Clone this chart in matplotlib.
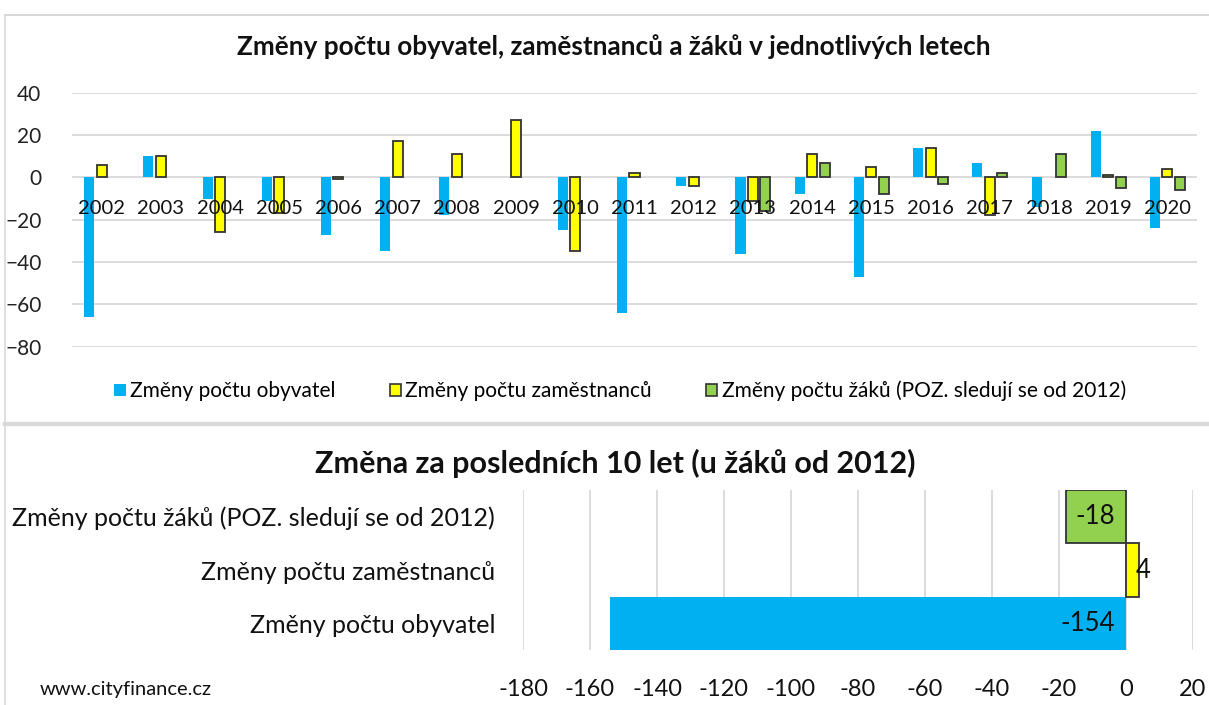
import numpy as np
import matplotlib.pyplot as plt
from matplotlib.lines import Line2D
from matplotlib.patches import Patch

years = [str(y) for y in range(2002, 2021)]
obyvatel = [-66, 10, -10, -11, -27, -35, -18, 0, -25, -64, -4, -36, -8, -47, 14, 7, -14, 22, -24]
zamestnanci = [6, 10, -26, -17, -1, 17, 11, 27, -35, 2, -4, -11, 11, 5, 14, -18, 0, 1, 4]
zaci = [np.nan] * 10 + [0, -16, 7, -8, -3, 2, 11, -5, -6]

series_names = ["Změny počtu obyvatel", "Změny počtu zaměstnanců",
                "Změny počtu žáků (POZ. sledují se od 2012)"]

sum_labels = ["Změny počtu obyvatel", "Změny počtu zaměstnanců",
              "Změny počtu žáků (POZ. sledují se od 2012)"]
sum_values = [-154, 4, -18]

BLUE, YELLOW, GREEN = "#00B0F0", "#FFFF00", "#92D050"
EDGE = "#333333"
GRID = "#D9D9D9"
NARROW = ["Liberation Sans Narrow", "DejaVu Sans Condensed", "Lato"]
NORMAL = ["Lato", "DejaVu Sans"]

W, H = 1209, 705
fig = plt.figure(figsize=(W / 100, H / 100), dpi=100)


def frac(x0, y0, x1, y1):
    # pixel box (top-left origin) -> axes rect
    return [x0 / W, 1 - y1 / H, (x1 - x0) / W, (y1 - y0) / H]


# ---- top chart
ax = fig.add_axes(frac(72, 92.7, 1197, 346.7))
x = np.arange(len(years))
w = 0.17
off = 0.21
for vals, dx, col, ec in [(obyvatel, -off, BLUE, "none"),
                          (zamestnanci, 0, YELLOW, EDGE),
                          (zaci, off, GREEN, EDGE)]:
    v = np.array(vals, dtype=float)
    m = ~np.isnan(v) & (v != 0)
    ax.bar(x[m] + dx, v[m], width=w, color=col, edgecolor=ec,
           linewidth=1.3 if ec != "none" else 0, zorder=3)

ax.set_xlim(-0.5, len(years) - 0.5)
ax.set_ylim(-80, 40)
ax.set_yticks(range(-80, 41, 20))
ax.grid(axis="y", color=GRID, linewidth=1.3, zorder=0)
ax.set_axisbelow(True)
for s in ax.spines.values():
    s.set_visible(False)
ax.tick_params(axis="both", length=0)
ax.set_xticks([])
for lab in ax.get_yticklabels():
    lab.set_family(NARROW)
    lab.set_fontsize(15)
    lab.set_color("#222222")
ax.tick_params(axis="y", pad=22)
for xi, yr in zip(x, years):
    ax.text(xi, -14.5, yr, ha="center", va="center",
            fontsize=14.5, family=NARROW, color="#111111", zorder=5)

handles = [Patch(facecolor=BLUE, edgecolor="none"),
           Patch(facecolor=YELLOW, edgecolor=EDGE, linewidth=1.2),
           Patch(facecolor=GREEN, edgecolor=EDGE, linewidth=1.2)]
leg = fig.legend(handles, series_names, loc="center", ncol=3,
                 bbox_to_anchor=(620 / W, 1 - 391 / H), frameon=False,
                 prop={"family": NARROW, "size": 15},
                 handlelength=0.55, handleheight=0.55, handletextpad=0.2,
                 columnspacing=2.6)

fig.text(614 / W, 1 - 47 / H,
         "Změny počtu obyvatel, zaměstnanců a žáků v jednotlivých letech",
         ha="center", va="center", fontsize=18.8, fontweight="bold",
         family=NARROW, color="#111111")

# ---- bottom chart
bx = fig.add_axes(frac(523, 490, 1193, 650))
order = [2, 1, 0]  # zaci on top, obyvatel at bottom
cols = [BLUE, YELLOW, GREEN]
edges = ["none", EDGE, EDGE]
for pos, i in enumerate(reversed(order)):
    bx.barh(pos, sum_values[i], height=1.0, color=cols[i], edgecolor=edges[i],
            linewidth=1.3 if edges[i] != "none" else 0, zorder=3)
    if sum_values[i] < 0:
        bx.annotate(str(sum_values[i]), (0, pos), xytext=(-8, 0),
                    textcoords="offset points", ha="right", va="center",
                    fontsize=18.5, family=NORMAL, color="#111111", zorder=5)
    else:
        bx.annotate(str(sum_values[i]), (sum_values[i], pos), xytext=(-3, 0),
                    textcoords="offset points", ha="left", va="center",
                    fontsize=18.5, family=NORMAL, color="#111111", zorder=5)
bx.set_ylim(-0.5, 2.5)
bx.set_xlim(-180, 20)
bx.set_xticks(range(-180, 21, 20))
bx.set_xticklabels([str(t) for t in range(-180, 21, 20)])
bx.set_yticks(range(3))
bx.set_yticklabels([sum_labels[i] for i in reversed(order)])
bx.grid(axis="x", color=GRID, linewidth=1.3, zorder=0)
bx.set_axisbelow(True)
for s in bx.spines.values():
    s.set_visible(False)
bx.tick_params(axis="both", length=0)
bx.tick_params(axis="x", pad=21)
bx.tick_params(axis="y", pad=20)
for lab in bx.get_xticklabels():
    lab.set_family(NORMAL)
    lab.set_fontsize(17)
    lab.set_color("#111111")
for lab in bx.get_yticklabels():
    lab.set_family(NORMAL)
    lab.set_fontsize(18)
    lab.set_color("#111111")

fig.text(615 / W, 1 - 463 / H, "Změna za posledních 10 let (u žáků od 2012)",
         ha="center", va="center", fontsize=22, fontweight="bold",
         family=NORMAL, color="#111111")
fig.text(40 / W, 1 - 690 / H, "www.cityfinance.cz", ha="left", va="center",
         fontsize=14.5, family=NORMAL, color="#111111")

# frame lines
fig.add_artist(Line2D([5 / W, 1], [1 - 15 / H] * 2, color=GRID, lw=1.5))
fig.add_artist(Line2D([5 / W] * 2, [0, 1 - 15 / H], color=GRID, lw=1.2))
fig.add_artist(Line2D([5 / W, 1], [1 - 424 / H] * 2, color=GRID, lw=3))

fig.savefig("out.png", dpi=100)
